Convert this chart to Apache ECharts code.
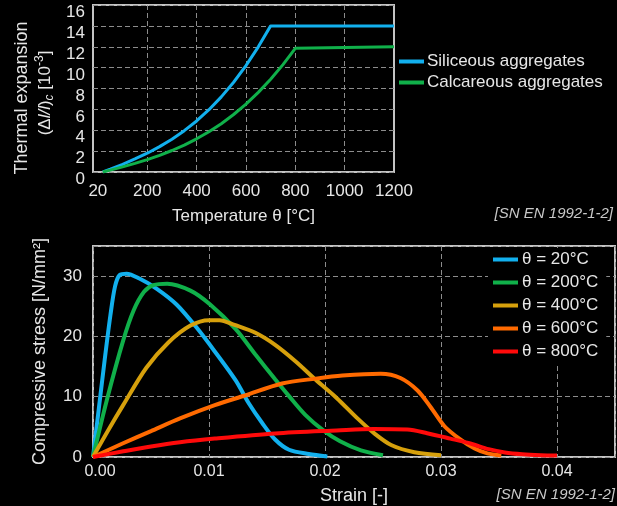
<!DOCTYPE html>
<html>
<head>
<meta charset="utf-8">
<script src="https://cdn.jsdelivr.net/npm/echarts@6/dist/echarts.min.js"></script>
<style>html,body{margin:0;padding:0;background:#000;}#c{width:617px;height:506px;}</style>
</head>
<body>
<div id="c"></div>
<script>
// ---- Top chart: thermal expansion ----
const siliceousT = [20,50,100,150,200,250,300,350,400,450,500,550,600,650,700,1200];
const siliceousV = [0,0.27,0.74,1.25,1.80,2.43,3.14,3.96,4.89,5.97,7.20,8.60,10.19,11.99,14.0,14.0];
const calcareousT = [20,50,100,150,200,250,300,350,400,450,500,550,600,650,700,750,800,805,1200];
const calcareousV = [0,0.18,0.49,0.83,1.19,1.60,2.06,2.58,3.18,3.86,4.63,5.51,6.50,7.63,8.88,10.29,11.85,12.0,12.0];
const tempTickLabels = [20,200,400,600,800,1000,1200];
const tempGridValues = [200,400,600,800,1000];

// ---- Bottom chart: stress-strain ----
const strain20 = [0,0.0005,0.001,0.0015,0.0019,0.0023,0.0029,0.004,0.0055,0.0072,0.009,0.0105,0.0123,0.0134,0.0146,0.0157,0.0169,0.0186,0.0202];
const stress20 = [0,8,16,23.5,28.3,30.2,30.4,29.6,27.9,25.3,21.3,17.5,12.7,9.0,5.6,2.9,1.2,0.5,0.1];
const strain200 = [0,0.0012,0.0026,0.0035,0.0044,0.0052,0.0064,0.0084,0.0101,0.0123,0.014,0.0157,0.0169,0.0183,0.0198,0.0213,0.0231,0.025];
const stress200 = [0,9.5,19.3,24.3,27.4,28.5,28.75,27.6,25.3,21.2,17.0,12.9,10.1,7.0,4.5,2.6,1.1,0.3];
const strain400 = [0,0.0013,0.0026,0.0046,0.0065,0.0084,0.01,0.0109,0.0122,0.014,0.0157,0.0175,0.0192,0.021,0.0228,0.0242,0.0257,0.0277,0.03];
const stress400 = [0,4.4,8.6,14.8,19.0,21.8,22.7,22.7,21.9,20.6,18.6,15.8,12.8,9.8,6.4,4.0,2.0,0.8,0.3];
const strain600 = [0,0.0025,0.005,0.0075,0.0105,0.0131,0.0163,0.0192,0.0215,0.0248,0.0265,0.028,0.0291,0.0303,0.0316,0.0329,0.034,0.0352];
const stress600 = [0,2.2,4.3,6.4,8.6,10.2,12.2,13,13.5,13.8,13.1,11,8.3,5.1,3,1.4,0.6,0.25];
const strain800 = [0,0.0025,0.005,0.0075,0.0105,0.0157,0.021,0.0242,0.0271,0.0288,0.0308,0.0326,0.0341,0.0355,0.037,0.0386,0.04];
const stress800 = [0,0.9,1.75,2.45,3.05,3.9,4.4,4.65,4.55,3.95,3.05,2.2,1.3,0.75,0.45,0.3,0.25];

const topNames = ['Siliceous aggregates','Calcareous aggregates'];
const bottomNames = ['θ = 20°C','θ = 200°C','θ = 400°C','θ = 600°C','θ = 800°C'];

const zip = (a,b) => a.map((v,i) => [v,b[i]]);
const TXT = '#e6e6e6';
const FONT = '"Liberation Sans", Arial, sans-serif';
const FRAME = '#c4c4c4';
const GRIDC = '#8c8c8c';
const dash = {color: GRIDC, width: 1, type: [5,3]};

const chart = echarts.init(document.getElementById('c'), null, {renderer:'canvas'});
const colors = ['#12b0ee','#10b04a','#d6a00c','#ff6a00','#ff0a0a'];

chart.setOption({
  backgroundColor: '#000',
  animation: false,
  textStyle: {fontFamily: FONT},
  grid: [
    {left: 93, top: 5, width: 301, height: 167, show: true, borderColor: FRAME, borderWidth: 2, containLabel: false, outerBoundsMode: 'none'},
    {left: 93, top: 246, width: 522, height: 211, show: true, borderColor: FRAME, borderWidth: 2, containLabel: false, outerBoundsMode: 'none'}
  ],
  xAxis: [
    {type: 'value', gridIndex: 0, min: -20, max: 1200,
     name: 'Temperature θ [°C]', nameLocation: 'middle', nameGap: 36,
     nameTextStyle: {color: TXT, fontSize: 17, fontFamily: FONT},
     axisLine: {show: false}, axisTick: {show: false, customValues: tempGridValues},
     axisLabel: {color: TXT, fontSize: 17, fontFamily: FONT, margin: 11, customValues: tempTickLabels,
       formatter: v => v === 20 ? '{a|20}' : String(v),
       rich: {a: {color: TXT, fontSize: 17, fontFamily: FONT, padding: [0,10,0,0]}}},
     splitLine: {show: true, lineStyle: dash}},
    {type: 'value', gridIndex: 1, min: 0, max: 0.045, interval: 0.01,
     name: 'Strain [-]', nameLocation: 'middle', nameGap: 30,
     nameTextStyle: {color: TXT, fontSize: 18, fontFamily: FONT},
     axisLine: {show: false}, axisTick: {show: false},
     axisLabel: {color: TXT, fontSize: 16, fontFamily: FONT, margin: 7, showMaxLabel: false,
       formatter: v => v === 0 ? '{a|0.00}' : v.toFixed(2),
       rich: {a: {color: TXT, fontSize: 16, fontFamily: FONT, padding: [0,0,0,14]}}},
     splitLine: {show: true, lineStyle: dash}}
  ],
  yAxis: [
    {type: 'value', gridIndex: 0, min: 0, max: 16, interval: 2,
     axisLine: {show: false}, axisTick: {show: false},
     axisLabel: {color: TXT, fontSize: 17, fontFamily: FONT, margin: 8,
       formatter: v => '{a|' + v + '}',
       rich: {a: {color: TXT, fontSize: 17, fontFamily: FONT, padding: [15,0,0,0]}}},
     splitLine: {show: true, lineStyle: dash}},
    {type: 'value', gridIndex: 1, min: 0, max: 35, interval: 10,
     name: 'Compressive stress [N/mm²]', nameLocation: 'middle', nameGap: 44,
     nameTextStyle: {color: TXT, fontSize: 18, fontFamily: FONT},
     axisLine: {show: false}, axisTick: {show: false},
     axisLabel: {color: TXT, fontSize: 17, fontFamily: FONT, margin: 11, showMaxLabel: false},
     splitLine: {show: true, lineStyle: dash}}
  ],
  legend: [
    {data: topNames, orient: 'vertical', left: 394, top: 48, icon: 'rect', itemWidth: 25, itemHeight: 4, itemGap: 4,
     textStyle: {color: TXT, fontSize: 17, fontFamily: FONT, lineHeight: 16, padding: [0,0,0,-2]}},
    {data: bottomNames, orient: 'vertical', left: 488, top: 248, icon: 'rect', itemWidth: 25, itemHeight: 4, itemGap: 6,
     padding: [3,8,3,5], backgroundColor: '#000',
     textStyle: {color: TXT, fontSize: 17, fontFamily: FONT, lineHeight: 16, padding: [0,0,0,-1]}}
  ],
  graphic: [
    {type: 'text', x: 22, y: 98, rotation: Math.PI/2, z: 10,
     style: {text: 'Thermal expansion', fill: TXT, font: '18px ' + FONT, align: 'center', verticalAlign: 'middle'}},
    {type: 'text', x: 45, y: 93, rotation: Math.PI/2, z: 10,
     style: {text: '{n|(Δ}{i|l/l}{n|)}{s|c}{n| [10}{p|-3}{n|]}', align: 'center', verticalAlign: 'middle',
       rich: {
         n: {fill: TXT, fontSize: 17, fontFamily: FONT, lineHeight: 22, verticalAlign: 'middle'},
         i: {fill: TXT, fontSize: 17, fontFamily: FONT, fontStyle: 'italic', lineHeight: 22, verticalAlign: 'middle'},
         s: {fill: TXT, fontSize: 12, fontFamily: FONT, fontStyle: 'italic', lineHeight: 22, verticalAlign: 'bottom'},
         p: {fill: TXT, fontSize: 12, fontFamily: FONT, lineHeight: 22, verticalAlign: 'top'}
       }}},
    {type: 'text', right: 4, top: 206, z: 10,
     style: {text: '[SN EN 1992-1-2]', fill: '#c8c8c8', font: 'italic 15px ' + FONT}},
    {type: 'text', right: 2, top: 487, z: 10,
     style: {text: '[SN EN 1992-1-2]', fill: '#c8c8c8', font: 'italic 15px ' + FONT}}
  ],
  series: [
    {name: topNames[0], type: 'line', xAxisIndex: 0, yAxisIndex: 0, data: zip(siliceousT, siliceousV),
     showSymbol: false, lineStyle: {color: colors[0], width: 3}, itemStyle: {color: colors[0]}},
    {name: topNames[1], type: 'line', xAxisIndex: 0, yAxisIndex: 0, data: zip(calcareousT, calcareousV),
     showSymbol: false, lineStyle: {color: colors[1], width: 3}, itemStyle: {color: colors[1]}},
    ...[[strain20,stress20],[strain200,stress200],[strain400,stress400],[strain600,stress600],[strain800,stress800]].map((d,i) => ({
      name: bottomNames[i], type: 'line', xAxisIndex: 1, yAxisIndex: 1, data: zip(d[0], d[1]),
      showSymbol: false, smooth: 0.3, lineStyle: {color: colors[i], width: 4}, itemStyle: {color: colors[i]}
    }))
  ]
});
</script>
</body>
</html>
